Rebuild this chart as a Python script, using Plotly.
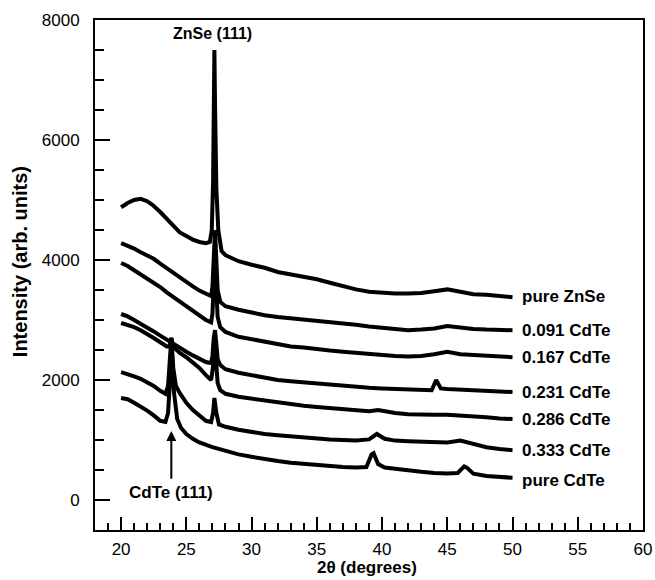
import plotly.graph_objects as go

# ---------------- data ----------------
labels = ["pure ZnSe", "0.091 CdTe", "0.167 CdTe", "0.231 CdTe",
          "0.286 CdTe", "0.333 CdTe", "pure CdTe"]

zns_x = [20, 20.5, 21, 21.5, 22, 22.4, 23, 23.5, 24, 24.5, 25, 25.5, 26, 26.5, 26.8,
         26.95, 27.05, 27.1, 27.15, 27.2, 27.3, 27.45, 27.7, 28, 29, 30, 31, 32, 33, 34,
         35, 36, 37, 38, 39, 40, 41, 42, 43, 44, 45, 46, 47, 48, 49, 50]
zns_y = [4880, 4950, 5000, 5020, 4980, 4920, 4800, 4680, 4580, 4460, 4400, 4340, 4300, 4280, 4300,
         4500, 5300, 6400, 7500, 6600, 5200, 4500, 4150, 4080, 3980, 3920, 3870, 3800, 3760, 3720,
         3680, 3620, 3560, 3510, 3470, 3450, 3440, 3440, 3450, 3480, 3510, 3470, 3430, 3420, 3400, 3380]

c091_x = [20, 20.5, 21, 21.5, 22, 22.5, 23, 23.5, 24, 24.5, 25, 25.5, 26, 26.5, 26.9,
          27.0, 27.1, 27.2, 27.3, 27.4, 27.6, 28, 29, 30, 31, 32, 33, 34, 35, 36,
          37, 38, 39, 40, 41, 42, 43, 44, 45, 46, 47, 48, 49, 50]
c091_y = [4280, 4240, 4190, 4130, 4080, 4020, 3940, 3860, 3780, 3710, 3640, 3560, 3490, 3430, 3400,
          3550, 4100, 4500, 4000, 3500, 3300, 3230, 3170, 3120, 3080, 3050, 3030, 3010, 2990, 2970,
          2950, 2920, 2890, 2870, 2850, 2830, 2840, 2860, 2900, 2870, 2850, 2840, 2830, 2830]

c167_x = [20, 20.5, 21, 21.5, 22, 22.5, 23, 23.5, 24, 24.5, 25, 25.5, 26, 26.5, 26.9,
          27.0, 27.1, 27.2, 27.3, 27.4, 27.6, 28, 29, 30, 31, 32, 33, 34, 35, 36,
          37, 38, 39, 40, 41, 42, 43, 44, 45, 46, 47, 48, 49, 50]
c167_y = [3950, 3900, 3830, 3760, 3700, 3630, 3550, 3460, 3380, 3300, 3230, 3150, 3070, 3000, 2960,
          3100, 3600, 3900, 3500, 3050, 2880, 2800, 2720, 2680, 2640, 2590, 2560, 2540, 2510, 2490,
          2470, 2450, 2430, 2420, 2400, 2390, 2400, 2430, 2470, 2430, 2420, 2400, 2390, 2380]

c231_x = [20, 20.5, 21, 21.5, 22, 22.5, 23, 23.5, 24, 24.5, 25, 25.5, 26, 26.5, 26.9,
          27.0, 27.1, 27.2, 27.3, 27.4, 27.6, 28, 29, 30, 31, 32, 33, 34, 35, 36,
          37, 38, 39, 40, 41, 42, 43, 43.8, 44.15, 44.5, 45, 46, 47, 48, 49, 50]
c231_y = [3100, 3060, 3000, 2940, 2880, 2810, 2740, 2670, 2600, 2540, 2470, 2410, 2350, 2300, 2280,
          2400, 2700, 2830, 2600, 2350, 2250, 2180, 2120, 2080, 2040, 2000, 1980, 1960, 1940, 1920,
          1900, 1880, 1870, 1860, 1850, 1840, 1830, 1830, 2000, 1860, 1850, 1840, 1830, 1820, 1810, 1800]

c286_x = [20, 20.5, 21, 21.5, 22, 22.5, 23, 23.5, 23.7, 23.85, 24.0, 24.5, 25, 25.5, 26, 26.5, 26.9,
          27.0, 27.1, 27.2, 27.3, 27.4, 27.6, 28, 29, 30, 31, 32, 33, 34, 35, 36,
          37, 38, 39, 39.7, 40.5, 41, 42, 43, 44, 45, 46, 47, 48, 49, 50]
c286_y = [2950, 2920, 2880, 2830, 2770, 2700, 2630, 2560, 2560, 2700, 2550, 2450, 2380, 2300, 2200, 2080, 2000,
          2150, 2400, 2500, 2250, 1950, 1830, 1770, 1720, 1690, 1650, 1620, 1600, 1570, 1550, 1530,
          1510, 1490, 1480, 1500, 1460, 1450, 1430, 1420, 1420, 1420, 1410, 1390, 1380, 1360, 1350]

c333_x = [20, 20.5, 21, 21.5, 22, 22.5, 23, 23.4, 23.6, 23.75, 23.85, 24.0, 24.2, 24.5, 25, 25.5, 26,
          26.5, 26.9, 27.05, 27.15, 27.3, 27.5, 28, 29, 30, 31, 32, 33, 34, 35, 36, 37, 38, 39,
          39.6, 40.2, 41, 42, 43, 44, 45, 46, 47, 48, 49, 50]
c333_y = [2130, 2100, 2060, 2020, 1960, 1900, 1820, 1770, 1900, 2500, 2700, 2200, 1900, 1780, 1620, 1500, 1400,
          1320, 1300, 1450, 1700, 1450, 1260, 1220, 1170, 1130, 1100, 1080, 1060, 1040, 1020, 1010, 1000, 990, 1010,
          1100, 1020, 990, 980, 970, 960, 960, 990, 930, 880, 850, 830]

cdte_x = [20, 20.5, 21, 21.5, 22, 22.5, 23, 23.4, 23.6, 23.8, 23.9, 24.05, 24.3, 24.6, 25, 25.5, 26,
          27, 28, 29, 30, 31, 32, 33, 34, 35, 36, 37, 38, 38.8, 39.2, 39.35, 39.7, 40.2, 41, 42,
          43, 44, 45, 45.8, 46.3, 46.5, 47, 48, 49, 50]
cdte_y = [1700, 1680, 1620, 1560, 1490, 1410, 1320, 1300, 1450, 2200, 2450, 1800, 1350, 1200, 1100, 1020, 960,
          880, 820, 760, 720, 680, 650, 620, 600, 580, 560, 550, 540, 550, 760, 780, 600, 540, 520, 490,
          470, 450, 440, 450, 560, 540, 440, 400, 380, 370]

label_y = [3400, 2833, 2367, 1800, 1350, 833, 330]

x_ticks = [20, 25, 30, 35, 40, 45, 50, 55, 60]
y_ticks = [0, 2000, 4000, 6000, 8000]

series_x = [zns_x, c091_x, c167_x, c231_x, c286_x, c333_x, cdte_x]
series_y = [zns_y, c091_y, c167_y, c231_y, c286_y, c333_y, cdte_y]

FONT = "Liberation Sans, Arial, sans-serif"

fig = go.Figure()
for xs, ys, name in zip(series_x, series_y, labels):
    fig.add_trace(go.Scatter(x=xs, y=ys, mode="lines", name=name,
                             line=dict(color="black", width=4), showlegend=False))

for name, ly in zip(labels, label_y):
    fig.add_annotation(x=50.55, y=ly, text="<b>%s</b>" % name, showarrow=False,
                       xanchor="left", yanchor="middle",
                       font=dict(family=FONT, size=17, color="black"))

fig.add_annotation(x=27.0, y=7770, text="<b>ZnSe (111)</b>", showarrow=False,
                   xanchor="center", yanchor="middle",
                   font=dict(family=FONT, size=16, color="black"))
fig.add_annotation(x=23.85, y=1150, ax=23.85, ay=330, axref="x", ayref="y",
                   text="", showarrow=True, arrowhead=2, arrowsize=1, arrowwidth=2,
                   arrowcolor="black")
fig.add_annotation(x=23.85, y=120, text="<b>CdTe (111)</b>", showarrow=False,
                   xanchor="center", yanchor="middle",
                   font=dict(family=FONT, size=17, color="black"))

# axis titles as paper-positioned annotations
fig.add_annotation(x=-0.137, y=0.527, xref="paper", yref="paper",
                   text="<b>Intensity (arb. units)</b>", showarrow=False, textangle=-90,
                   xanchor="center", yanchor="middle",
                   font=dict(family=FONT, size=20, color="black"))
fig.add_annotation(x=0.497, y=-0.0735, xref="paper", yref="paper",
                   text="<b>2θ (degrees)</b>", showarrow=False,
                   xanchor="center", yanchor="middle",
                   font=dict(family=FONT, size=17, color="black"))

fig.update_xaxes(range=[18, 60], tickvals=x_ticks, ticks="inside", ticklen=13, tickwidth=2,
                 tickcolor="black", showline=True, linewidth=2, linecolor="black", mirror=True,
                 showgrid=False, zeroline=False, ticklabelstandoff=3, automargin=False,
                 tickfont=dict(family=FONT, size=17, color="black"),
                 tickprefix="<b>", ticksuffix="</b>",
                 minor=dict(dtick=1, tick0=0, ticks="inside", ticklen=7, tickwidth=2, tickcolor="black"))
fig.update_yaxes(range=[-500, 8000], tickvals=y_ticks, ticks="inside", ticklen=15, tickwidth=2,
                 tickcolor="black", showline=True, linewidth=2, linecolor="black", mirror=True,
                 showgrid=False, zeroline=False, ticklabelstandoff=10, automargin=False,
                 tickfont=dict(family=FONT, size=17, color="black"),
                 tickprefix="<b>", ticksuffix="</b>",
                 minor=dict(dtick=500, tick0=0, ticks="inside", ticklen=9, tickwidth=2, tickcolor="black"))

fig.update_layout(width=655, height=580, margin=dict(l=95, r=12, t=20, b=50),
                  paper_bgcolor="white", plot_bgcolor="white")

fig.write_html("out.html")
